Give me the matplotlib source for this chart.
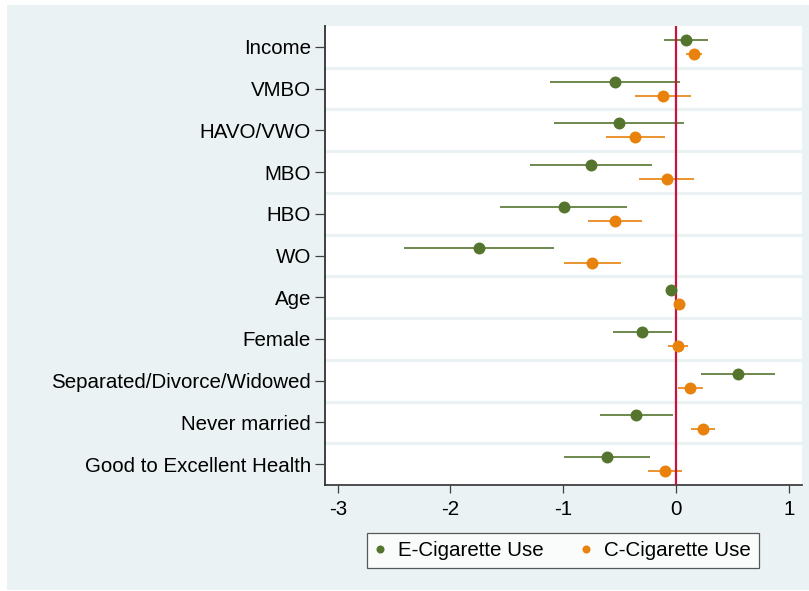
import matplotlib
matplotlib.use("Agg")
import matplotlib.pyplot as plt
from matplotlib.patches import Rectangle
from matplotlib.lines import Line2D

categories = ["Income", "VMBO", "HAVO/VWO", "MBO", "HBO", "WO", "Age", "Female",
              "Separated/Divorce/Widowed", "Never married", "Good to Excellent Health"]

e_coef = [0.092, -0.538, -0.506, -0.751, -0.997, -1.745, -0.047, -0.305, 0.553, -0.352, -0.615]
e_lo   = [-0.104, -1.115, -1.080, -1.293, -1.559, -2.411, -0.055, -0.562, 0.222, -0.677, -0.997]
e_hi   = [0.281, 0.036, 0.074, -0.210, -0.438, -1.080, -0.039, -0.038, 0.881, -0.027, -0.231]

c_coef = [0.160, -0.118, -0.361, -0.083, -0.544, -0.743, 0.024, 0.015, 0.127, 0.240, -0.095]
c_lo   = [0.089, -0.364, -0.618, -0.325, -0.784, -0.997, 0.018, -0.068, 0.015, 0.136, -0.246]
c_hi   = [0.234, 0.130, -0.098, 0.157, -0.305, -0.488, 0.030, 0.104, 0.240, 0.346, 0.056]

x_ticks = [-3, -2, -1, 0, 1]
legend_labels = ["E-Cigarette Use", "C-Cigarette Use"]

GREEN = "#55752f"
ORANGE = "#e8820c"
RED = "#c8143c"
BG = "#eaf2f3"
FS = 14.8

plt.rcParams['font.family'] = ['Liberation Sans', 'DejaVu Sans']

fig = plt.figure(figsize=(8.09, 5.91), dpi=100)
fig.patch.set_facecolor("white")
fig.add_artist(Rectangle((7/809, 1/591), (809-7)/809, (590-5)/591,
                         transform=fig.transFigure, facecolor=BG, edgecolor="none", zorder=0))

ax = fig.add_axes([325/809, 1-485/591, (801.7-325)/809, (485-26)/591])
ax.set_facecolor("white")

n = len(categories)
ys = list(range(n))
off = 0.168

for i in ys:
    ax.hlines(i - off, e_lo[i], e_hi[i], color=GREEN, lw=1.2, zorder=3)
    ax.hlines(i + off, c_lo[i], c_hi[i], color=ORANGE, lw=1.2, zorder=3)
ax.plot(e_coef, [y - off for y in ys], 'o', color=GREEN, ms=8.6, mec="none", zorder=4)
ax.plot(c_coef, [y + off for y in ys], 'o', color=ORANGE, ms=8.6, mec="none", zorder=4)

ax.axvline(0, color=RED, lw=1.6, zorder=3.5)

for b in range(n - 1):
    ax.axhline(b + 0.5, color=BG, lw=2.2, zorder=1)

ax.set_ylim(n - 0.5, -0.5)
ax.set_xlim(-3.113, 1.115)
ax.set_yticks(ys)
ax.set_yticklabels(categories, fontsize=FS)
ax.set_xticks(x_ticks)
ax.set_xticklabels([str(t) for t in x_ticks], fontsize=FS)

for s in ["top", "right"]:
    ax.spines[s].set_visible(False)
ax.spines["left"].set_color("#404040")
ax.spines["left"].set_linewidth(1.4)
ax.spines["bottom"].set_color("#303030")
ax.spines["bottom"].set_linewidth(1.2)
ax.tick_params(axis="y", length=7, width=0.9, color="#404040", pad=3)
ax.tick_params(axis="x", length=6, width=0.9, color="#404040", pad=5)

handles = [Line2D([], [], ls="none", marker="o", color=GREEN, ms=5.8, mec="none"),
           Line2D([], [], ls="none", marker="o", color=ORANGE, ms=5.8, mec="none")]
leg = fig.legend(handles, legend_labels, loc="center", bbox_to_anchor=(563/809, 1-550.5/591),
                 ncol=2, fontsize=FS, frameon=True, fancybox=False, edgecolor="#303030",
                 handlelength=0.5, handletextpad=0.63, columnspacing=1.8,
                 borderpad=0.4)
leg.get_frame().set_linewidth(0.9)

fig.savefig("out.png", dpi=100, facecolor=fig.get_facecolor())
